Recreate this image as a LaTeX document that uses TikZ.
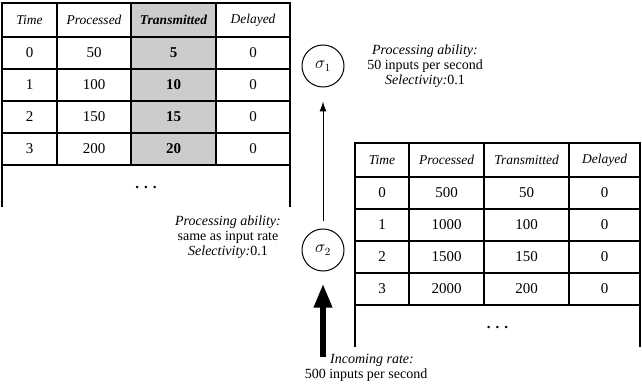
\documentclass[tikz,border=0pt]{standalone}
\usepackage{fontspec}
\setmainfont{Liberation Serif}
\usetikzlibrary{arrows.meta, positioning}

\begin{document}
\begin{tikzpicture}[x=1pt, y=-1pt, font=\fontsize{15}{18}\selectfont,
  grid/.style = {line width=1.4pt},
  head/.style = {font=\fontsize{13.5}{16}\selectfont\itshape},
  op/.style = {draw, circle, line width=1pt, minimum size=42pt, inner sep=0pt, font=\fontsize{16}{18}\selectfont},
  note/.style = {align=center, font=\fontsize{14}{15}\selectfont}]
\useasboundingbox (0,0) rectangle (642,390);

% table of sigma_1
\fill[gray!40] (131,3) rectangle (216,165);
\draw[grid] (2,207) -- (2,3) -- (290,3) -- (290,207);
\foreach \y in {37,69,101,133,165} \draw[grid] (2,\y) -- (290,\y);
\foreach \x in {57,131,216} \draw[grid] (\x,3) -- (\x,165);
\node[head] (lh1) at (29.5,20) {Time};
\node[head] (lh2) at (94,20) {Processed};
\node[head] (lh3) at (173.5,20) {\bfseries Transmitted};
\node[head] (lh4) at (253,20) {Delayed};
\foreach \t/\p/\s [count=\i] in {0/50/5, 1/100/10, 2/150/15, 3/200/20} {
  \node (lt\i) at (29.5,21+32*\i) {\t};
  \node (lp\i) at (94,21+32*\i) {\p};
  \node (ls\i) at (173.5,21+32*\i) {\textbf{\s}};
  \node (ld\i) at (253,21+32*\i) {0};
}
\node (ldots) at (146,187) {\textbf{.\,\,.\,\,.}};

% table of sigma_2
\draw[grid] (355,347) -- (355,143) -- (640,143) -- (640,347);
\foreach \y in {177,209,241,273,305} \draw[grid] (355,\y) -- (640,\y);
\foreach \x in {409,484,569} \draw[grid] (\x,143) -- (\x,305);
\node[head] (rh1) at (382,160) {Time};
\node[head] (rh2) at (446.5,160) {Processed};
\node[head] (rh3) at (526.5,160) {Transmitted};
\node[head] (rh4) at (604.5,160) {Delayed};
\foreach \t/\p/\s [count=\i] in {0/500/50, 1/1000/100, 2/1500/150, 3/2000/200} {
  \node (rt\i) at (382,161+32*\i) {\t};
  \node (rp\i) at (446.5,161+32*\i) {\p};
  \node (rs\i) at (526.5,161+32*\i) {\s};
  \node (rd\i) at (604.5,161+32*\i) {0};
}
\node (rdots) at (497.5,327) {\textbf{.\,\,.\,\,.}};

% operators
\node[op] (s1) at (323,66) {$\sigma_1$};
\node[op] (s2) at (323,250) {$\sigma_2$};
\coordinate (in) at (323,357);
\draw[line width=1pt, -{Latex[length=10pt,width=7pt]}, shorten <=8pt, shorten >=14pt] (s2) -- (s1);
\draw[line width=6pt, -{Triangle[length=24pt,width=17pt]}, shorten >=12pt] (in) -- (s2);

\node[note] (ab1) at (425,66) {\textit{Processing ability:}\\50 inputs per second\\\textit{Selectivity:}0.1};
\node[note] (ab2) at (228,237) {\textit{Processing ability:}\\same as input rate\\\textit{Selectivity:}0.1};
\node[note] (rate) at (366,368) {\hspace*{12pt}\textit{Incoming rate:}\\500 inputs per second};
\end{tikzpicture}
\end{document}
